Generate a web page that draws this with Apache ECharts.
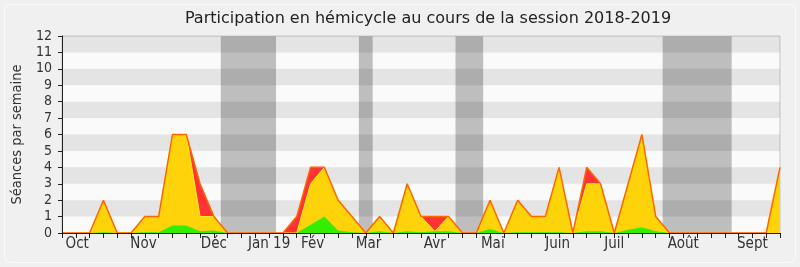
<!DOCTYPE html>
<html>
<head>
<meta charset="utf-8">
<script src="https://cdn.jsdelivr.net/npm/echarts@6/dist/echarts.min.js"></script>
<style>
html,body{margin:0;padding:0;background:#f0f0f0;}
#c{width:800px;height:267px;}
</style>
</head>
<body>
<div id="c"></div>
<script>
// Weekly values (week index 0..52)
const seances   = [0,0,0,2,0,0,1,1,6,6, 3,1,0,0,0,0,0,1,4,4, 2,1,0,1,0,3,1,1,1,0, 0,2,0,2,1,1,4,0,4,3, 0,3,6,1,0,0,0,0,0,0, 0,0,4];
const presences = [0,0,0,2,0,0,1,1,6,6, 1,1,0,0,0,0,0,0,3,4, 2,1,0,1,0,3,1,0.1,1,0, 0,2,0,2,1,1,4,0,3,3, 0,3,6,1,0,0,0,0,0,0, 0,0,4];
const interventions = [0,0,0,0.05,0,0,0.05,0.05,0.45,0.45, 0.1,0.15,0,0,0,0,0,0,0.5,1.0, 0.15,0.05,0,0.1,0,0.1,0.05,0.1,0.1,0, 0,0.25,0,0.05,0.05,0.05,0.05,0,0.1,0.1, 0,0.2,0.35,0.1,0,0,0,0,0,0, 0,0,0.1];
// Vacation periods (in week units)
const vacances = [[11.5,15.5],[21.5,22.5],[28.5,30.5],[43.5,48.5]];
// Month tick labels and their week positions
const monthLabels = ['Oct','Nov','Déc','Jan 19','Fév','Mar','Avr','Mai','Juin','Juil','Août','Sept'];
const monthWeeks  = [1.1,5.9,11,15,18.15,22.2,27,31.2,35.9,40,45,50];
const yTicks = [0,1,2,3,4,5,6,7,8,9,10,11,12];

const FONT = 'DejaVu Sans Condensed, DejaVu Sans, sans-serif';
const TFONT = 'DejaVu Sans, sans-serif';
const nWeeks = seances.length - 1;
const weekTicks = [];
for (let i = 0; i <= nWeeks; i++) weekTicks.push(i);
const pairs = arr => arr.map((v, i) => [i, v]);
const stripes = [];
for (let k = 1; k < 12; k += 2) stripes.push([{yAxis: k}, {yAxis: k + 1}]);

const chart = echarts.init(document.getElementById('c'), null, {renderer: 'canvas'});
chart.setOption({
  backgroundColor: '#f0f0f0',
  animation: false,
  title: {
    text: 'Participation en hémicycle au cours de la session 2018-2019',
    left: 423, top: 6, textAlign: 'center',
    textStyle: {fontFamily: TFONT, fontSize: 16, fontWeight: 'normal', color: '#222'}
  },
  graphic: [{
    type: 'rect', silent: true, z: -1,
    shape: {x: 4.5, y: 4.5, width: 791, height: 258, r: 6},
    style: {fill: 'none', stroke: '#fbfbfb', lineWidth: 1}
  }],
  grid: {
    left: 62, right: 20, top: 36, bottom: 34, outerBoundsMode: 'none', containLabel: false,
    show: true, backgroundColor: '#fafafa', borderColor: '#c8c8c8', borderWidth: 1
  },
  xAxis: [{
    type: 'value', min: 0, max: nWeeks, interval: 1, position: 'bottom', z: 10,
    axisLine: {show: true, onZero: false, lineStyle: {color: '#222', width: 1}},
    axisTick: {show: true, length: 5, customValues: weekTicks, lineStyle: {color: '#222'}},
    axisLabel: {
      customValues: monthWeeks, margin: 4,
      formatter: v => { const k = monthWeeks.indexOf(v); return k >= 0 ? monthLabels[k] : ''; },
      fontFamily: FONT, fontSize: 15, color: '#333'
    },
    splitLine: {show: false}
  }, {
    type: 'value', min: 0, max: nWeeks, interval: 1, position: 'top', z: 10,
    axisLine: {show: false},
    axisTick: {show: true, inside: true, length: 2, customValues: weekTicks, lineStyle: {color: '#111'}},
    axisLabel: {show: false},
    splitLine: {show: false}
  }],
  yAxis: {
    type: 'value', min: 0, max: 12, interval: 1, z: 10,
    name: 'Séances par semaine', nameLocation: 'middle', nameGap: 36,
    nameTextStyle: {fontFamily: FONT, fontSize: 14.5, color: '#333'},
    axisLine: {show: true, lineStyle: {color: '#222'}},
    axisTick: {show: true, length: 4, lineStyle: {color: '#222'}},
    axisLabel: {fontFamily: FONT, fontSize: 14, color: '#333', margin: 10,
      formatter: v => yTicks.includes(v) ? String(v) : ''},
    splitLine: {show: false}
  },
  series: [
    {
      type: 'line', data: [], z: 1, silent: true,
      markArea: {silent: true, itemStyle: {color: '#bebebe'},
        data: vacances.map(b => [{xAxis: b[0]}, {xAxis: b[1]}])}
    },
    {
      type: 'line', data: [], z: 2, silent: true,
      markArea: {silent: true, itemStyle: {color: 'rgba(0,0,0,0.085)'}, data: stripes}
    },
    {
      name: 'Séances', type: 'line', data: pairs(seances), z: 3, showSymbol: false,
      lineStyle: {width: 0}, areaStyle: {color: '#ff3333', opacity: 1}
    },
    {
      name: 'Présences', type: 'line', data: pairs(presences), z: 4, showSymbol: false,
      lineStyle: {width: 1, color: '#ffee22'}, areaStyle: {color: '#ffd30a', opacity: 1}
    },
    {
      name: 'Interventions', type: 'line', data: pairs(interventions), z: 5, showSymbol: false,
      lineStyle: {width: 0}, areaStyle: {color: '#33ee00', opacity: 1}
    },
    {
      name: 'Séances (ligne)', type: 'line', data: pairs(seances), z: 6, showSymbol: false,
      lineStyle: {width: 1.5, color: '#ff6600'}
    }
  ]
});
</script>
</body>
</html>
